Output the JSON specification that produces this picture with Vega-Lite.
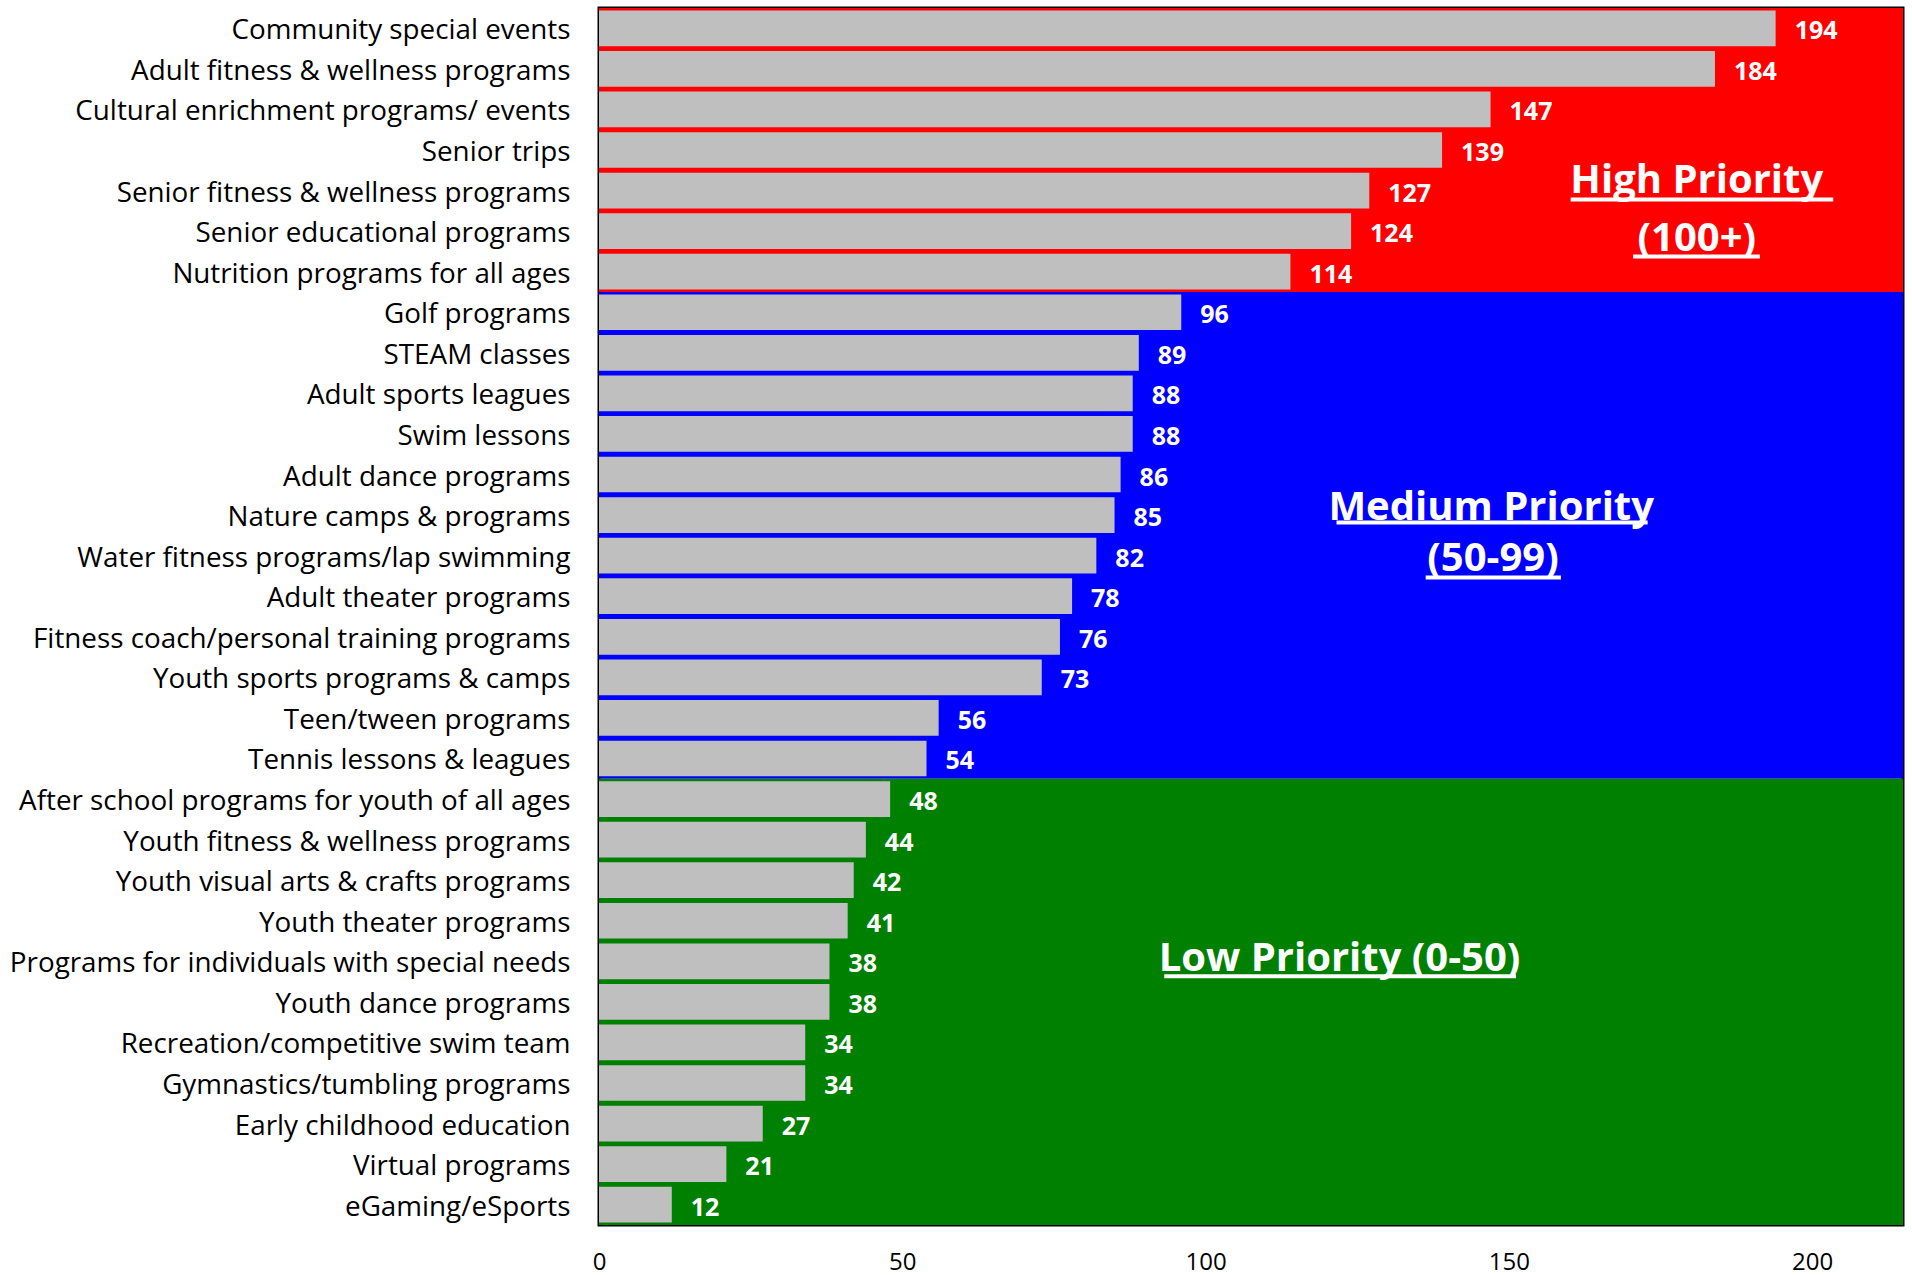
{
  "$schema": "https://vega.github.io/schema/vega-lite/v6.json",
  "width": 1304,
  "height": 1217,
  "autosize": {"type": "none"},
  "padding": {"left": 599, "top": 8, "right": 9, "bottom": 50},
  "background": "white",
  "config": {
    "view": {"stroke": "black", "strokeWidth": 3},
    "font": "Open Sans",
    "axisX": {"title": null, "grid": false, "ticks": false, "tickSize": 0, "domain": false, "labelFont": "Open Sans", "labelFontSize": 24, "labelColor": "black", "labelPadding": 25, "labelFlush": false}
  },
  "datasets": {
    "programs": [
      {"name": "Community special events", "value": 194},
      {"name": "Adult fitness & wellness programs", "value": 184},
      {"name": "Cultural enrichment programs/ events", "value": 147},
      {"name": "Senior trips", "value": 139},
      {"name": "Senior fitness & wellness programs", "value": 127},
      {"name": "Senior educational programs", "value": 124},
      {"name": "Nutrition programs for all ages", "value": 114},
      {"name": "Golf programs", "value": 96},
      {"name": "STEAM classes", "value": 89},
      {"name": "Adult sports leagues", "value": 88},
      {"name": "Swim lessons", "value": 88},
      {"name": "Adult dance programs", "value": 86},
      {"name": "Nature camps & programs", "value": 85},
      {"name": "Water fitness programs/lap swimming", "value": 82},
      {"name": "Adult theater programs", "value": 78},
      {"name": "Fitness coach/personal training programs", "value": 76},
      {"name": "Youth sports programs & camps", "value": 73},
      {"name": "Teen/tween programs", "value": 56},
      {"name": "Tennis lessons & leagues", "value": 54},
      {"name": "After school programs for youth of all ages", "value": 48},
      {"name": "Youth fitness & wellness programs", "value": 44},
      {"name": "Youth visual arts & crafts programs", "value": 42},
      {"name": "Youth theater programs", "value": 41},
      {"name": "Programs for individuals with special needs", "value": 38},
      {"name": "Youth dance programs", "value": 38},
      {"name": "Recreation/competitive swim team", "value": 34},
      {"name": "Gymnastics/tumbling programs", "value": 34},
      {"name": "Early childhood education", "value": 27},
      {"name": "Virtual programs", "value": 21},
      {"name": "eGaming/eSports", "value": 12}
    ],
    "zones": [
      {"zone": "High", "from": 0, "to": 7},
      {"zone": "Medium", "from": 7, "to": 19},
      {"zone": "Low", "from": 19, "to": 30}
    ],
    "notes": [
      {"label": "High Priority", "x": 181.0, "y": 4.18},
      {"label": "(100+)", "x": 181.0, "y": 5.61},
      {"label": "Medium Priority", "x": 147.1, "y": 12.24},
      {"label": "(50-99)", "x": 147.4, "y": 13.5},
      {"label": "Low Priority (0-50)", "x": 122.1, "y": 23.38}
    ],
    "underlines": [
      {"x1": 160.2, "x2": 203.5, "y": 4.72},
      {"x1": 170.5, "x2": 191.4, "y": 6.125},
      {"x1": 121.6, "x2": 172.9, "y": 12.68},
      {"x1": 136.3, "x2": 158.6, "y": 14.04},
      {"x1": 93.2, "x2": 151.2, "y": 23.87}
    ]
  },
  "resolve": {"scale": {"y": "independent"}},
  "layer": [
    {
      "layer": [
        {
          "data": {"name": "zones"},
          "mark": {"type": "rect"},
          "encoding": {
            "x": {"datum": 0, "type": "quantitative", "scale": {"domain": [0, 215], "nice": false, "zero": true}, "axis": {"values": [0, 50, 100, 150, 200]}},
            "x2": {"datum": 215},
            "y": {"field": "from", "type": "quantitative", "scale": {"domain": [0, 30], "reverse": true, "nice": false, "zero": false}, "axis": null},
            "y2": {"field": "to"},
            "color": {"field": "zone", "type": "nominal", "scale": {"domain": ["High", "Medium", "Low"], "range": ["#FF0000", "#0000FF", "#008000"]}, "legend": null}
          }
        },
        {
          "data": {"name": "notes"},
          "mark": {"type": "text", "font": "Open Sans", "fontSize": 40, "fontWeight": "bold", "color": "white", "align": "center", "baseline": "middle", "dy": 3},
          "encoding": {
            "x": {"field": "x", "type": "quantitative", "axis": {"values": [0, 50, 100, 150, 200]}},
            "y": {"field": "y", "type": "quantitative", "axis": null},
            "text": {"field": "label"}
          }
        },
        {
          "data": {"name": "underlines"},
          "mark": {"type": "rule", "color": "white", "strokeWidth": 4},
          "encoding": {
            "x": {"field": "x1", "type": "quantitative", "axis": {"values": [0, 50, 100, 150, 200]}},
            "x2": {"field": "x2"},
            "y": {"field": "y", "type": "quantitative", "axis": null}
          }
        }
      ]
    },
    {
      "data": {"name": "programs"},
      "layer": [
        {
          "mark": {"type": "bar", "color": "#BFBFBF"},
          "encoding": {
            "x": {"field": "value", "type": "quantitative", "axis": {"values": [0, 50, 100, 150, 200]}},
            "y": {
              "field": "name", "type": "nominal", "sort": null,
              "scale": {"paddingInner": 0.12, "paddingOuter": 0.06},
              "axis": {"title": null, "ticks": false, "tickSize": 0, "domain": false, "labelFont": "Open Sans", "labelFontSize": 27.8, "labelColor": "black", "labelPadding": 29, "labelLimit": 700, "labelOffset": 3}
            }
          }
        },
        {
          "mark": {"type": "text", "font": "Open Sans", "fontSize": 25, "fontWeight": "bold", "color": "white", "align": "left", "baseline": "middle", "dx": 19, "dy": 3},
          "encoding": {
            "x": {"field": "value", "type": "quantitative", "axis": {"values": [0, 50, 100, 150, 200]}},
            "y": {"field": "name", "type": "nominal", "sort": null},
            "text": {"field": "value", "type": "quantitative"}
          }
        }
      ]
    }
  ]
}
